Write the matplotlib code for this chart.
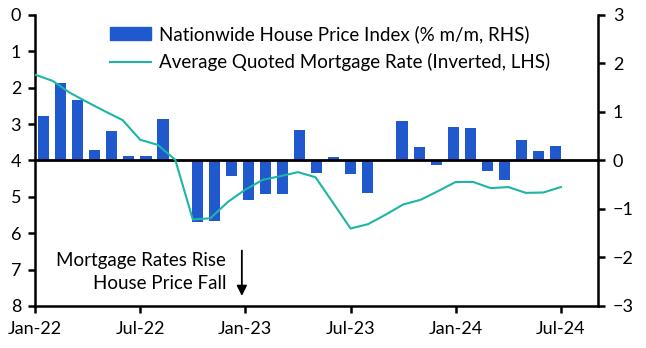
import matplotlib
matplotlib.use("Agg")
import matplotlib.pyplot as plt
import numpy as np
from matplotlib.patches import Patch
from matplotlib.lines import Line2D

plt.rcParams["font.family"] = ["Lato", "DejaVu Sans"]

# monthly data, Jan-22 .. Jul-24
house_price_mm = [0.92, 1.60, 1.25, 0.22, 0.61, 0.10, 0.10, 0.86, 0.00, -1.26,
                  -1.24, -0.31, -0.81, -0.69, -0.69, 0.63, -0.26, 0.07, -0.28, -0.68,
                  0.00, 0.81, 0.28, -0.09, 0.69, 0.67, -0.21, -0.40, 0.42, 0.20, 0.30]
mortgage_rate = [1.64, 1.81, 2.14, 2.40, 2.65, 2.89, 3.43, 3.57, 3.98, 5.62,
                 5.59, 5.14, 4.80, 4.53, 4.43, 4.32, 4.46, 5.16, 5.87, 5.75,
                 5.49, 5.21, 5.08, 4.84, 4.59, 4.59, 4.76, 4.73, 4.89, 4.88, 4.73]
tick_labels = ["Jan-22", "Jul-22", "Jan-23", "Jul-23", "Jan-24", "Jul-24"]

bar_color = "#2059CE"
line_color = "#1DB5A5"
spine_w = 1.8
fs = 13

fig = plt.figure(figsize=(6.46, 3.48), dpi=100)
rect = [0.0542, 0.1207, 0.8710, 0.8362]

# bars on the right-hand axis
axb = fig.add_axes(rect)
idx = np.arange(len(house_price_mm))
axb.bar(idx, house_price_mm, width=0.65, color=bar_color, zorder=2)
axb.set_xlim(-0.5, 32.46)
axb.set_ylim(-3, 3)
axb.yaxis.tick_right()
axb.set_yticks(range(-3, 4))
axb.tick_params(axis="y", direction="out", length=5, width=spine_w, labelsize=fs, pad=6)
axb.set_xticks([])
for s in ["left", "top", "bottom"]:
    axb.spines[s].set_visible(False)
axb.spines["right"].set_linewidth(spine_w)

# line on the left-hand (inverted) axis
ax = fig.add_axes(rect)
ax.set_facecolor("none")
ax.plot(idx, mortgage_rate, color=line_color, lw=1.5, zorder=3)
ax.axhline(4, color="black", lw=2.0, zorder=2)
ax.set_xlim(0, 32.1)
ax.set_ylim(8, 0)
ax.set_yticks(range(0, 9))
ax.set_xticks(idx[::6])
ax.set_xticklabels(tick_labels)
ax.tick_params(axis="both", direction="out", length=5, width=spine_w, labelsize=fs)
ax.tick_params(axis="y", pad=5)
ax.tick_params(axis="x", pad=6)
for s in ["right", "top"]:
    ax.spines[s].set_visible(False)
for s in ["left", "bottom"]:
    ax.spines[s].set_linewidth(spine_w)

ax.annotate("", xy=(11.8, 7.8), xytext=(11.8, 6.4),
            arrowprops=dict(arrowstyle="-|>,head_width=0.3,head_length=0.6",
                            color="black", lw=1.3))
ax.text(10.9, 7.07, "Mortgage Rates Rise\nHouse Price Fall", ha="right", va="center",
        fontsize=13.5, linespacing=1.4)

handles = [Patch(color=bar_color), Line2D([], [], color=line_color, lw=1.5)]
labels = ["Nationwide House Price Index (% m/m, RHS)",
          "Average Quoted Mortgage Rate (Inverted, LHS)"]
ax.legend(handles, labels, loc="upper left", bbox_to_anchor=(0.133, 0.965), frameon=False,
          fontsize=13.5, handlelength=2.2, handletextpad=0.4, labelspacing=0.55,
          borderpad=0, borderaxespad=0)

fig.savefig("out.png", dpi=100)
